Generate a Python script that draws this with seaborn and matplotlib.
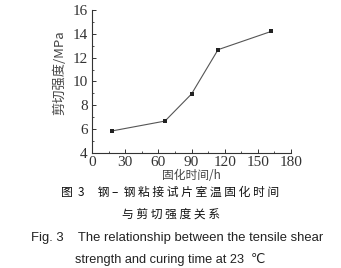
import matplotlib
matplotlib.use("Agg")
import matplotlib.pyplot as plt
import seaborn as sns
import pandas as pd
from matplotlib.ticker import MultipleLocator

sns.set_theme(style="ticks")
plt.rcParams['font.family'] = ['Liberation Serif', 'Noto Sans CJK SC']

time_h = [18, 66, 90, 114, 162]
strength = [5.85, 6.68, 8.95, 12.67, 14.2]
x_ticks = [0, 30, 60, 90, 120, 150, 180]
y_ticks = [4, 6, 8, 10, 12, 14, 16]

df = pd.DataFrame({"t": time_h, "s": strength})

fig = plt.figure(figsize=(3.41, 2.68), dpi=100)
ax = fig.add_axes([0.2698, 0.4291, 0.5836, 0.5336])
sns.lineplot(data=df, x="t", y="s", ax=ax, color="#555555", linewidth=0.8,
             marker="s", markersize=3, markeredgewidth=0, markerfacecolor="#222222")
ax.set_xlim(0, 180)
ax.set_ylim(4, 16)
ax.set_xticks(x_ticks)
ax.set_yticks(y_ticks)
ax.xaxis.set_minor_locator(MultipleLocator(15))
ax.yaxis.set_minor_locator(MultipleLocator(1))
ax.tick_params(which="major", direction="in", length=3, width=0.7, colors="#333333",
               labelsize=11, labelcolor="#333333")
ax.tick_params(axis="x", which="major", pad=2.5)
ax.tick_params(axis="y", which="major", pad=3)
ax.tick_params(which="minor", direction="in", length=1.5, width=0.6, colors="#333333")
for sp in ["top", "right"]:
    ax.spines[sp].set_visible(False)
for sp in ["left", "bottom"]:
    ax.spines[sp].set_linewidth(0.8)
    ax.spines[sp].set_color("#333333")
ax.set_xlabel("固化时间/h", fontsize=8.5, color="#444444", labelpad=0,
              family=['Noto Sans CJK SC'])
ax.set_ylabel("剪切强度/MPa", fontsize=9.5, color="#444444",
              family=['Noto Sans CJK SC'])
ax.yaxis.set_label_coords(-0.13, 0.56)

fig.text(0.5, 0.283, "图  3     钢 –  钢 粘 接 试 片 室 温 固 化 时 间", ha="center", va="center",
         fontsize=8.5, color="#111111", family=['Noto Sans CJK SC'], fontweight="medium")
fig.text(0.5, 0.200, "与 剪 切 强 度 关 系", ha="center", va="center",
         fontsize=8.5, color="#111111", family=['Noto Sans CJK SC'], fontweight="medium")
fig.text(0.52, 0.113, "Fig. 3    The relationship between the tensile shear", ha="center",
         va="center", fontsize=9.4, color="#222222", family=['Liberation Sans'])
fig.text(0.5, 0.032, "strength and curing time at 23  ℃", ha="center",
         va="center", fontsize=9.2, color="#222222", family=['Liberation Sans', 'DejaVu Sans'])

fig.savefig("out.png", dpi=100)
